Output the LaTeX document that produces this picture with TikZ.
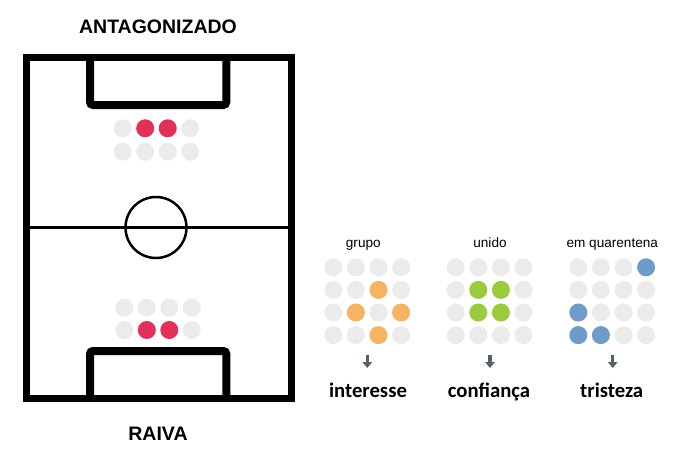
\documentclass[tikz,border=0pt]{standalone}
\usepackage{fontspec}
\setmainfont{Liberation Sans}
\newfontfamily\wordfont{Carlito}
\usepackage{tikz}
\definecolor{DotGrey}{HTML}{EBEBEB}
\definecolor{DotRed}{HTML}{E3305A}
\definecolor{DotOrange}{HTML}{F5B461}
\definecolor{DotGreen}{HTML}{9BCA3C}
\definecolor{DotBlue}{HTML}{6F9BCB}
\definecolor{ArrowGrey}{HTML}{56606B}
\usetikzlibrary{arrows.meta,positioning}

\begin{document}
\begin{tikzpicture}[
x=1pt, y=-1pt,
dot/.style={
	circle,
	fill=DotGrey,
	inner sep=0pt,
	minimum size=18pt
},
title/.style={
	font=\fontsize{19.5}{22}\selectfont\bfseries,
	anchor=base,
	inner sep=0pt
},
tag/.style={
	font=\fontsize{13.6}{16}\selectfont,
	anchor=base,
	inner sep=0pt
},
word/.style={
	font=\fontsize{20.7}{24}\selectfont\wordfont\bfseries,
	anchor=base,
	inner sep=0pt
},
downarrow/.style={
	ArrowGrey,
	line width=3.5pt,
	-{Triangle[width=9.5pt,length=6pt]}
},
]
\useasboundingbox (0,0) rectangle (675,458);

% field
\draw[line width=7pt, miter limit=10] (26,57) rectangle (291,398.5);
\draw[line width=8pt, rounded corners=3pt] (90,57) -- (90,105) -- (226.3,105) -- (226.3,57);
\draw[line width=8pt, rounded corners=3pt] (90,398.5) -- (90,351) -- (226.3,351) -- (226.3,398.5);
\draw[line width=2.3pt] (26,227.5) -- (291,227.5);
\node[circle, draw, line width=2.5pt, minimum size=61pt, inner sep=0pt] (centre) at (156,227.5) {};

\node[title] (antag) at (158,33.3) {ANTAGONIZADO};
\node[title] (raiva) at (158,440.5) {RAIVA};

% players
\foreach \c in {0,...,3} {
	\node[dot] (top-0-\c) at (122.7+22.5*\c,128.3) {};
	\node[dot] (top-1-\c) at (122.7+22.5*\c,151.7) {};
	\node[dot] (bot-0-\c) at (124.3+22.5*\c,307.7) {};
	\node[dot] (bot-1-\c) at (124.3+22.5*\c,330) {};
}
\node[dot, fill=DotRed] at (top-0-1) {};
\node[dot, fill=DotRed] at (top-0-2) {};
\node[dot, fill=DotRed] at (bot-1-1) {};
\node[dot, fill=DotRed] at (bot-1-2) {};

% grids
\foreach \g/\x in {grupo/333.3, unido/455.7, quar/578.3} {
	\foreach \r in {0,...,3} {
		\foreach \c in {0,...,3} {
			\node[dot] (\g-\r-\c) at (\x+22.6*\c,267.3+22.6*\r) {};
		}
	}
}
\node[dot, fill=DotOrange] at (grupo-1-2) {};
\node[dot, fill=DotOrange] at (grupo-2-1) {};
\node[dot, fill=DotOrange] at (grupo-2-3) {};
\node[dot, fill=DotOrange] at (grupo-3-2) {};

\node[dot, fill=DotGreen] at (unido-1-1) {};
\node[dot, fill=DotGreen] at (unido-1-2) {};
\node[dot, fill=DotGreen] at (unido-2-1) {};
\node[dot, fill=DotGreen] at (unido-2-2) {};

\node[dot, fill=DotBlue] at (quar-0-3) {};
\node[dot, fill=DotBlue] at (quar-2-0) {};
\node[dot, fill=DotBlue] at (quar-3-0) {};
\node[dot, fill=DotBlue] at (quar-3-1) {};

\node[tag] (grupo-tag) at (363.3,247.7) {grupo};
\node[tag] (unido-tag) at (490,247.7) {unido};
\node[tag] (quar-tag) at (612.3,247.7) {em quarentena};

\coordinate (grupo-a) at (367.3,354.5);
\coordinate (grupo-b) at (367.3,368);
\coordinate (unido-a) at (490,354.5);
\coordinate (unido-b) at (490,368);
\coordinate (quar-a) at (612.7,354.5);
\coordinate (quar-b) at (612.7,368);
\draw[downarrow] (grupo-a) to (grupo-b);
\draw[downarrow] (unido-a) to (unido-b);
\draw[downarrow] (quar-a) to (quar-b);

\node[word] (interesse) at (368,397.7) {interesse};
\node[word] (confianca) at (489,397.7) {confiança};
\node[word] (tristeza) at (611.7,397.7) {tristeza};

\end{tikzpicture}
\end{document}
